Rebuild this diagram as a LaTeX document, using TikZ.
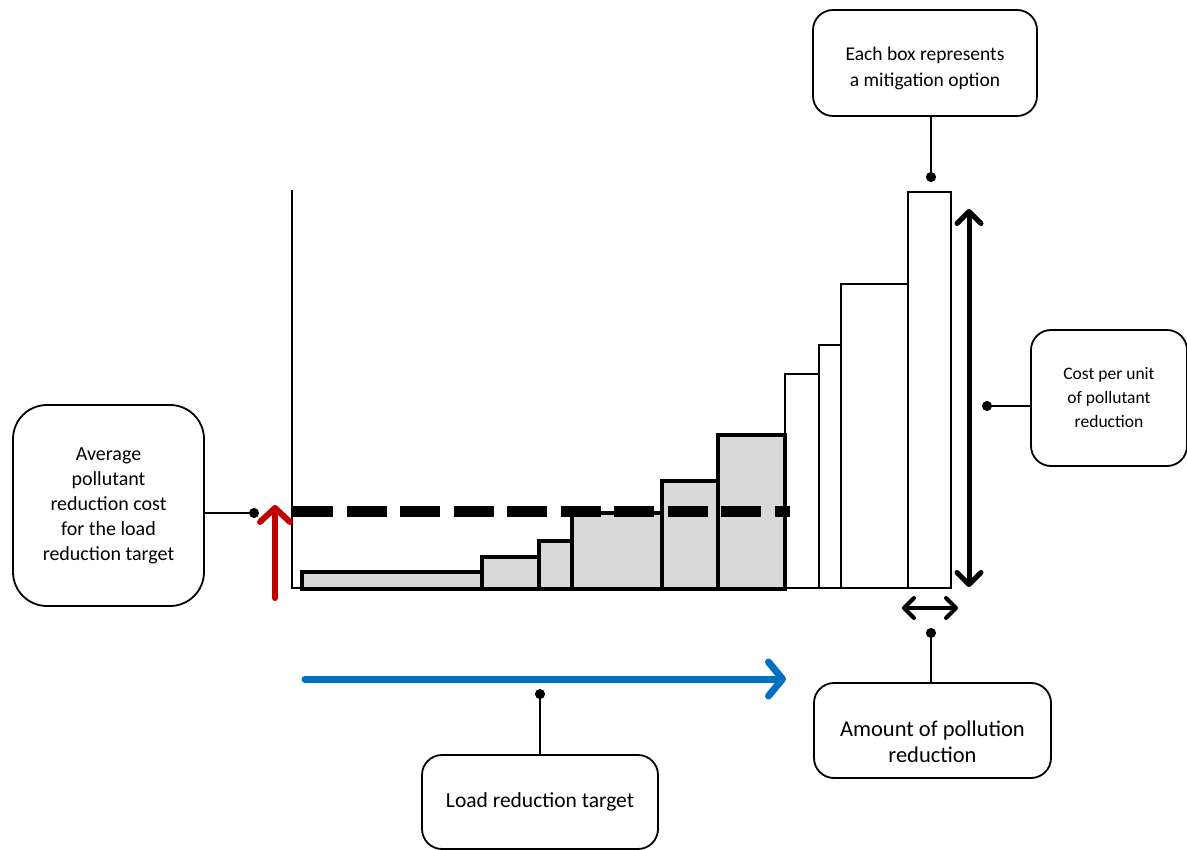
\documentclass[tikz,border=0pt]{standalone}
\usepackage{fontspec}
\setmainfont{Carlito}
\usetikzlibrary{arrows.meta}
\definecolor{barfill}{HTML}{D9D9D9}
\definecolor{redarrow}{HTML}{C00000}
\definecolor{bluearrow}{HTML}{0070C0}
\begin{document}
\begin{tikzpicture}[x=1pt,y=-1pt,
  callout/.style={draw, line width=1.8pt, rounded corners=20pt, align=center, inner sep=0pt},
  calltext/.style={align=center, inner sep=0pt},
  whitebar/.style={draw, line width=2pt, fill=white},
  greybar/.style={draw, line width=4.5pt, fill=barfill},
  lead/.style={line width=1.8pt, -{Circle[length=10pt,width=10pt]}},
  bigarrow/.style={line width=#1, line cap=round},
]
\useasboundingbox (0,0) rectangle (1187,850);

% axes
\draw[line width=1.5pt] (292,190) -- (292,588) -- (951,588);

% white bars
\draw[whitebar] (785,588) rectangle (819,374);
\draw[whitebar] (819,588) rectangle (841,345);
\draw[whitebar] (841,588) rectangle (908,284);
\draw[whitebar] (908,588) rectangle (951,192);

% grey bars
\draw[greybar] (302,589) rectangle (482,572);
\draw[greybar] (482,589) rectangle (539,557);
\draw[greybar] (539,589) rectangle (572,541);
\draw[greybar] (572,589) rectangle (662,513);
\draw[greybar] (662,589) rectangle (718,481);
\draw[greybar] (718,589) rectangle (785,435);

% average cost dashed line
\draw[line width=11pt, dash pattern=on 40pt off 13.5pt] (293,511) -- (790,511);

% arrows
\coordinate (redA) at (275,598);
\coordinate (redB) at (275,505);
\draw[bigarrow=6pt, redarrow, -{Straight Barb[length=14pt,width=30pt,round]}] (redA) -- (redB);

\coordinate (blueA) at (305,679);
\coordinate (blueB) at (786,679);
\draw[bigarrow=7pt, bluearrow, -{Straight Barb[length=14pt,width=34pt,round]}] (blueA) -- (blueB);

\coordinate (costA) at (969,209);
\coordinate (costB) at (969,587);
\draw[bigarrow=5pt, {Straight Barb[length=12pt,width=24pt,round]}-{Straight Barb[length=12pt,width=24pt,round]}] (costA) -- (costB);

\coordinate (amtA) at (902,608);
\coordinate (amtB) at (958,608);
\draw[bigarrow=4pt, {Straight Barb[length=10pt,width=20pt,round]}-{Straight Barb[length=10pt,width=20pt,round]}] (amtA) -- (amtB);

% callout boxes
\node[callout, minimum width=224pt, minimum height=106pt] (top) at (925,63) {};
\node[calltext, font=\fontsize{19.5}{26}\selectfont] (toptext) at (925,68) {Each box represents\\a mitigation option};
\node[callout, minimum width=156pt, minimum height=136pt, font=\fontsize{17.5}{24}\selectfont] (right) at (1109,398) {Cost per unit\\of pollutant\\reduction};
\node[callout, rounded corners=34pt, minimum width=191pt, minimum height=201pt, font=\fontsize{20}{25}\selectfont] (left) at (108.5,505.5) {Average\\pollutant\\reduction cost\\for the load\\reduction target};
\node[callout, minimum width=237pt, minimum height=95pt] (amount) at (932.5,730.5) {};
\node[calltext, font=\fontsize{22.5}{26}\selectfont] (amounttext) at (932.5,742) {Amount of pollution\\reduction};
\node[callout, minimum width=236pt, minimum height=94pt, font=\fontsize{21.5}{26}\selectfont] (load) at (540,802) {Load reduction target};

% leader lines
\coordinate (dTop) at (931,182);
\coordinate (dRight) at (982,406);
\coordinate (dLeft) at (259,513);
\coordinate (dAmount) at (931,628);
\coordinate (dLoad) at (540,689);
\draw[lead] (top.south -| dTop) -- (dTop);
\draw[lead] (right.west |- dRight) -- (dRight);
\draw[lead] (left.east |- dLeft) -- (dLeft);
\draw[lead] (amount.north -| dAmount) -- (dAmount);
\draw[lead] (load.north) -- (dLoad);
\end{tikzpicture}
\end{document}
